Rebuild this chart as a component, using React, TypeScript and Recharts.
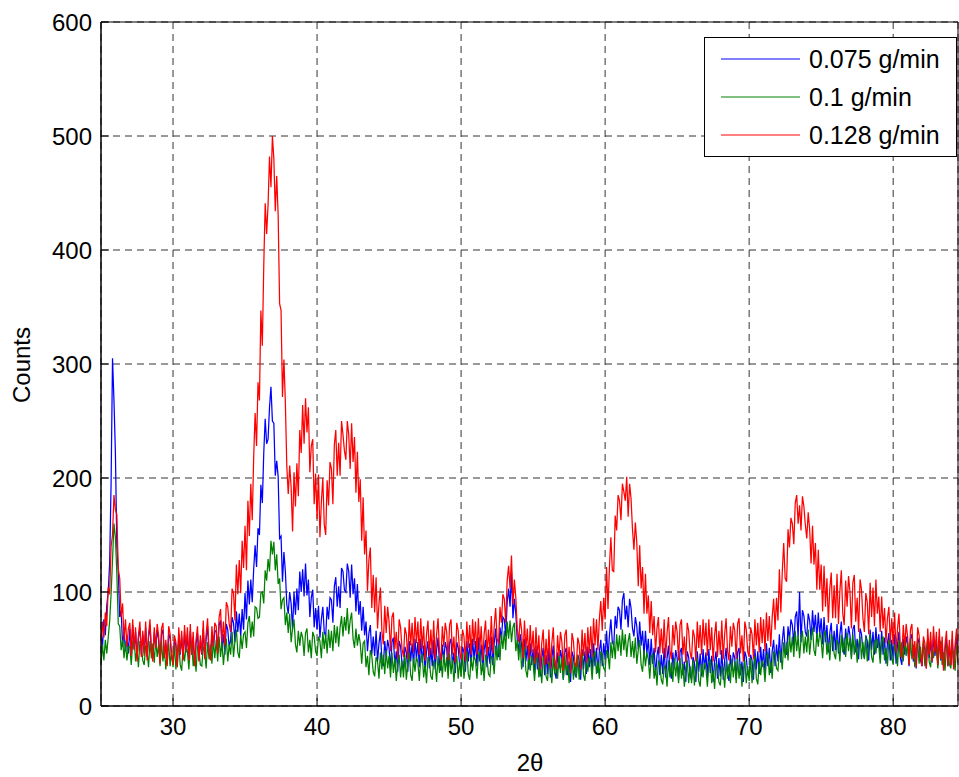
import React from 'react';
import { LineChart, Line, XAxis, YAxis, CartesianGrid } from 'recharts';

// 2θ sampling grid (degrees): 25.0, 25.1, ... 84.5
const TWO_THETA_START = 25;
const TWO_THETA_STEP = 0.1;

const X_TICKS = [30, 40, 50, 60, 70, 80];
const Y_TICKS = [0, 100, 200, 300, 400, 500, 600];

// Counts, 0.075 g/min (blue) – one row per degree
const COUNTS_0075 = [
  66, 50, 76, 62, 88, 100, 125, 195, 305, 268,
  222, 140, 118, 78, 84, 52, 66, 48, 62, 46,
  68, 46, 71, 50, 65, 42, 60, 69, 45, 63,
  46, 69, 43, 60, 71, 48, 42, 65, 51, 67,
  58, 39, 63, 67, 43, 55, 37, 64, 59, 44,
  38, 58, 53, 36, 63, 45, 61, 41, 65, 47,
  63, 41, 66, 45, 60, 37, 55, 64, 40, 58,
  45, 68, 42, 59, 70, 47, 41, 64, 50, 66,
  66, 47, 71, 75, 51, 63, 45, 72, 67, 52,
  58, 78, 73, 56, 83, 65, 81, 61, 85, 67,
  99, 76, 110, 89, 111, 91, 120, 141, 122, 156,
  150, 194, 178, 222, 252, 230, 234, 262, 280, 250,
  248, 202, 215, 201, 147, 149, 109, 135, 118, 89,
  81, 100, 90, 67, 100, 80, 103, 84, 118, 100,
  120, 96, 125, 97, 111, 78, 95, 102, 69, 86,
  67, 88, 60, 76, 87, 65, 61, 87, 76, 95,
  93, 73, 105, 113, 87, 105, 86, 121, 118, 102,
  100, 125, 118, 95, 124, 98, 112, 83, 107, 80,
  92, 66, 87, 62, 74, 48, 64, 71, 45, 61,
  44, 66, 39, 55, 65, 41, 35, 57, 43, 58,
  51, 32, 56, 60, 36, 48, 30, 57, 52, 37,
  32, 52, 47, 30, 57, 39, 55, 35, 59, 41,
  56, 34, 59, 38, 53, 30, 48, 57, 33, 51,
  35, 58, 32, 49, 60, 37, 31, 54, 40, 56,
  50, 31, 55, 59, 35, 47, 29, 56, 51, 36,
  32, 52, 47, 30, 57, 39, 55, 35, 59, 41,
  57, 35, 60, 39, 54, 31, 49, 58, 34, 52,
  37, 61, 36, 55, 68, 47, 43, 69, 58, 78,
  76, 61, 91, 103, 87, 118, 77, 94, 81, 58,
  48, 63, 54, 34, 59, 39, 53, 32, 55, 36,
  50, 28, 53, 32, 47, 26, 42, 51, 27, 45,
  28, 51, 25, 42, 53, 30, 24, 47, 33, 49,
  42, 23, 47, 51, 27, 39, 21, 48, 43, 28,
  25, 45, 40, 23, 50, 32, 48, 28, 52, 34,
  50, 29, 55, 35, 51, 29, 48, 58, 35, 55,
  41, 66, 42, 62, 76, 56, 53, 79, 68, 87,
  84, 67, 93, 99, 76, 88, 69, 94, 86, 68,
  61, 78, 70, 50, 74, 53, 66, 44, 66, 46,
  59, 36, 59, 37, 51, 27, 44, 52, 27, 45,
  28, 51, 25, 42, 53, 30, 24, 47, 33, 49,
  42, 23, 47, 51, 27, 39, 21, 48, 43, 28,
  23, 43, 38, 21, 48, 30, 46, 26, 50, 32,
  47, 25, 50, 29, 44, 21, 39, 48, 24, 42,
  26, 49, 23, 40, 51, 28, 22, 45, 31, 47,
  42, 23, 47, 51, 27, 39, 21, 48, 43, 28,
  25, 45, 40, 23, 50, 32, 48, 28, 52, 34,
  50, 29, 55, 35, 51, 29, 48, 58, 35, 54,
  39, 63, 38, 57, 70, 49, 45, 70, 58, 76,
  71, 53, 78, 83, 60, 100, 56, 84, 79, 65,
  61, 81, 75, 58, 84, 65, 80, 59, 82, 63,
  77, 54, 78, 56, 71, 47, 64, 73, 48, 66,
  49, 72, 46, 63, 74, 51, 45, 68, 54, 70,
  62, 43, 67, 71, 47, 59, 41, 68, 63, 48,
  42, 62, 57, 40, 67, 49, 65, 45, 69, 51,
  63, 41, 66, 45, 60, 37, 55, 64, 40, 58,
  40, 63, 37, 54, 65, 42, 36, 59, 45, 61,
  54, 35, 59, 63, 39, 51, 33, 60, 55, 40,
  35, 55, 50, 33, 60, 42, 58, 38, 62, 44,
  58, 36, 61, 40, 55, 32, 50, 59, 35, 53,
  36, 59, 33, 50, 61, 38,
];

// Counts, 0.1 g/min (green)
const COUNTS_01 = [
  36, 54, 40, 58, 46, 60, 74, 98, 128, 160,
  148, 116, 72, 70, 49, 58, 42, 56, 40, 52,
  52, 36, 56, 60, 39, 50, 34, 57, 53, 40,
  36, 53, 49, 34, 57, 42, 55, 38, 59, 43,
  54, 35, 57, 39, 52, 32, 47, 55, 35, 50,
  34, 54, 32, 46, 56, 36, 31, 51, 39, 52,
  48, 32, 52, 56, 35, 46, 30, 53, 49, 36,
  35, 52, 48, 33, 56, 41, 54, 37, 58, 42,
  58, 39, 61, 43, 56, 36, 51, 59, 39, 54,
  45, 65, 43, 57, 67, 47, 42, 62, 50, 63,
  65, 51, 73, 79, 60, 74, 61, 87, 86, 77,
  78, 99, 100, 90, 119, 110, 129, 118, 145, 133,
  144, 119, 133, 107, 112, 85, 93, 95, 71, 82,
  64, 81, 56, 68, 76, 54, 47, 66, 53, 65,
  60, 44, 64, 68, 47, 58, 42, 65, 61, 48,
  44, 61, 57, 42, 65, 50, 63, 46, 67, 51,
  66, 48, 71, 55, 70, 52, 69, 79, 61, 78,
  66, 86, 63, 75, 82, 59, 51, 68, 53, 63,
  55, 37, 55, 57, 34, 44, 27, 49, 44, 30,
  26, 43, 39, 24, 47, 32, 45, 28, 49, 33,
  44, 25, 47, 29, 42, 22, 37, 45, 25, 40,
  25, 45, 23, 37, 47, 27, 22, 42, 30, 43,
  38, 22, 42, 46, 25, 36, 20, 43, 39, 26,
  23, 40, 36, 21, 44, 29, 42, 25, 46, 30,
  43, 24, 46, 28, 41, 21, 36, 44, 24, 39,
  26, 46, 24, 38, 48, 28, 23, 43, 31, 44,
  40, 24, 44, 48, 27, 38, 22, 45, 41, 28,
  26, 44, 41, 28, 53, 40, 55, 40, 63, 50,
  66, 49, 74, 59, 75, 56, 69, 73, 48, 58,
  40, 57, 32, 44, 52, 31, 25, 44, 31, 44,
  38, 22, 42, 46, 25, 36, 20, 43, 39, 26,
  22, 39, 35, 20, 43, 28, 41, 24, 45, 29,
  42, 23, 45, 27, 40, 20, 35, 43, 23, 38,
  25, 45, 23, 37, 47, 27, 22, 42, 30, 43,
  39, 23, 44, 48, 28, 39, 24, 48, 45, 33,
  31, 49, 46, 32, 56, 42, 57, 41, 63, 48,
  62, 44, 67, 49, 63, 43, 57, 64, 43, 57,
  42, 60, 37, 49, 58, 36, 30, 49, 35, 47,
  41, 24, 43, 46, 24, 34, 18, 40, 36, 23,
  19, 36, 32, 17, 40, 25, 38, 21, 42, 26,
  39, 20, 42, 24, 37, 17, 32, 40, 20, 35,
  20, 40, 18, 32, 42, 22, 17, 37, 25, 38,
  33, 17, 37, 41, 20, 31, 15, 38, 34, 21,
  18, 35, 31, 16, 39, 24, 37, 20, 41, 25,
  39, 20, 42, 24, 37, 17, 32, 40, 20, 35,
  22, 42, 20, 34, 44, 24, 19, 39, 27, 40,
  36, 21, 42, 47, 27, 39, 24, 48, 45, 33,
  31, 49, 46, 32, 56, 42, 56, 40, 62, 47,
  61, 43, 66, 48, 62, 42, 58, 66, 46, 61,
  47, 67, 45, 59, 69, 49, 44, 64, 52, 65,
  58, 42, 62, 66, 45, 56, 40, 63, 59, 46,
  41, 58, 54, 39, 62, 47, 60, 43, 64, 48,
  60, 41, 63, 45, 58, 38, 53, 61, 41, 56,
  41, 61, 39, 53, 63, 43, 38, 58, 46, 59,
  53, 37, 57, 61, 40, 51, 35, 58, 54, 41,
  37, 54, 50, 35, 58, 43, 56, 39, 60, 44,
  56, 37, 59, 41, 54, 34, 49, 57, 37, 52,
  37, 57, 35, 49, 59, 39, 34, 54, 42, 55,
  49, 33, 53, 57, 36, 47, 31, 54, 50, 37,
  33, 50, 46, 31, 54, 39,
];

// Counts, 0.128 g/min (red)
const COUNTS_0128 = [
  56, 74, 60, 82, 70, 104, 98, 140, 150, 185,
  172, 168, 120, 112, 78, 90, 58, 76, 52, 68,
  73, 44, 76, 49, 69, 39, 62, 74, 43, 66,
  44, 74, 40, 62, 76, 47, 39, 69, 51, 72,
  62, 37, 68, 73, 42, 58, 35, 70, 63, 44,
  36, 62, 56, 34, 69, 46, 66, 40, 71, 48,
  69, 40, 72, 45, 65, 35, 58, 70, 39, 62,
  45, 75, 41, 63, 77, 48, 40, 70, 52, 73,
  70, 46, 78, 85, 56, 74, 53, 91, 87, 72,
  65, 103, 99, 75, 124, 98, 128, 99, 145, 121,
  158, 119, 180, 149, 195, 163, 218, 257, 228, 284,
  268, 347, 316, 386, 441, 414, 440, 482, 455, 500,
  480, 434, 465, 430, 353, 347, 271, 304, 266, 210,
  186, 211, 192, 153, 205, 175, 213, 184, 242, 222,
  264, 230, 270, 240, 262, 205, 228, 234, 177, 204,
  164, 203, 148, 179, 200, 159, 150, 198, 176, 214,
  208, 177, 229, 242, 202, 231, 202, 250, 238, 224,
  216, 250, 238, 208, 248, 214, 236, 187, 223, 179,
  199, 145, 183, 133, 154, 101, 128, 139, 86, 115,
  82, 113, 68, 90, 104, 66, 54, 88, 64, 87,
  74, 48, 78, 82, 50, 65, 42, 76, 69, 50,
  43, 69, 63, 41, 76, 53, 73, 47, 78, 55,
  74, 45, 77, 50, 70, 40, 63, 75, 44, 67,
  45, 75, 41, 63, 77, 48, 40, 70, 52, 73,
  65, 40, 71, 76, 45, 61, 38, 73, 66, 47,
  41, 67, 61, 39, 74, 51, 71, 45, 76, 53,
  74, 45, 77, 50, 70, 40, 63, 75, 44, 67,
  48, 79, 46, 70, 86, 59, 54, 87, 73, 98,
  94, 73, 110, 123, 103, 132, 89, 111, 95, 68,
  56, 77, 67, 42, 75, 50, 68, 41, 71, 47,
  66, 37, 69, 42, 62, 32, 55, 67, 36, 59,
  37, 67, 33, 55, 69, 40, 32, 62, 44, 65,
  56, 31, 62, 67, 36, 52, 29, 64, 57, 38,
  34, 60, 54, 32, 67, 44, 64, 38, 69, 46,
  70, 43, 77, 53, 76, 49, 76, 92, 66, 95,
  76, 122, 85, 122, 148, 119, 118, 167, 154, 185,
  180, 163, 195, 188, 180, 201, 166, 195, 182, 155,
  137, 161, 143, 105, 141, 103, 122, 81, 116, 81,
  97, 64, 92, 62, 79, 47, 68, 78, 46, 68,
  46, 76, 42, 64, 78, 49, 41, 71, 53, 74,
  65, 40, 71, 76, 45, 61, 38, 73, 66, 47,
  41, 67, 61, 39, 74, 51, 71, 45, 76, 53,
  73, 44, 76, 49, 69, 39, 62, 74, 43, 66,
  45, 75, 41, 63, 77, 48, 40, 70, 52, 73,
  66, 41, 72, 77, 46, 62, 39, 74, 67, 48,
  43, 69, 63, 41, 76, 53, 73, 47, 78, 55,
  76, 48, 82, 57, 79, 52, 78, 94, 67, 95,
  75, 120, 82, 118, 143, 112, 109, 155, 139, 165,
  160, 142, 178, 185, 160, 176, 154, 184, 175, 159,
  147, 170, 155, 125, 158, 124, 143, 102, 137, 102,
  124, 83, 123, 87, 112, 73, 103, 117, 77, 106,
  77, 116, 72, 101, 119, 81, 71, 110, 87, 114,
  100, 68, 108, 115, 74, 95, 65, 111, 102, 77,
  65, 99, 91, 63, 108, 78, 104, 70, 111, 81,
  96, 65, 96, 68, 86, 55, 77, 87, 55, 77,
  54, 82, 47, 68, 81, 51, 42, 71, 52, 72,
  61, 36, 67, 72, 41, 57, 34, 69, 62, 43,
  35, 61, 55, 33, 68, 45, 65, 39, 70, 47,
  65, 36, 68, 41, 61, 31, 54, 66, 35, 58,
  36, 66, 32, 54, 68, 39,
];

const SERIES = [
  { key: 'a', name: '0.075 g/min', color: '#0000FF', values: COUNTS_0075 },
  { key: 'b', name: '0.1 g/min', color: '#008000', values: COUNTS_01 },
  { key: 'c', name: '0.128 g/min', color: '#FF0000', values: COUNTS_0128 },
];

const data = COUNTS_0075.map((_, i) => {
  const row: Record<string, number> = { x: Math.round((TWO_THETA_START + i * TWO_THETA_STEP) * 10) / 10 };
  SERIES.forEach((s) => {
    row[s.key] = s.values[i];
  });
  return row;
});

const FONT = '"Liberation Sans", Arial, Helvetica, sans-serif';
const W = 959;
const H = 777;

export default function App() {
  const tickStyle = { fontSize: 24, fill: '#000', fontFamily: FONT };
  return (
    <div style={{ position: 'absolute', left: 0, top: 0, width: W, height: H, background: '#fff', fontFamily: FONT }}>
      <LineChart width={W} height={H} data={data} margin={{ top: 21, right: 0, bottom: 20, left: 41 }}>
        <CartesianGrid stroke="#333" strokeDasharray="7 5" />
        <XAxis
          dataKey="x"
          type="number"
          domain={[25, 84.5]}
          ticks={X_TICKS}
          allowDataOverflow
          height={51}
          stroke="#000"
          tickSize={-8}
          tickMargin={20}
          tick={tickStyle}
          tickLine={{ stroke: '#000' }}
          axisLine={{ stroke: '#000', strokeWidth: 1.5 }}
          label={() => (
            <text x={530} y={771} textAnchor="middle" fontSize={24} fontFamily={FONT} fill="#000">
              2θ
            </text>
          )}
        />
        <XAxis
          xAxisId="top"
          orientation="top"
          type="number"
          domain={[25, 84.5]}
          ticks={X_TICKS}
          allowDataOverflow
          height={1}
          tick={false}
          tickSize={-8}
          tickLine={{ stroke: '#000' }}
          axisLine={{ stroke: '#000' }}
        />
        <YAxis
          type="number"
          domain={[0, 600]}
          ticks={Y_TICKS}
          allowDataOverflow
          width={60}
          stroke="#000"
          tickSize={-8}
          tickMargin={17}
          tick={tickStyle}
          tickLine={{ stroke: '#000' }}
          axisLine={{ stroke: '#000', strokeWidth: 1.5 }}
          label={() => (
            <text
              x={30}
              y={365}
              textAnchor="middle"
              fontSize={24}
              fontFamily={FONT}
              fill="#000"
              transform="rotate(-90, 30, 365)"
            >
              Counts
            </text>
          )}
        />
        <YAxis
          yAxisId="right"
          orientation="right"
          type="number"
          domain={[0, 600]}
          ticks={Y_TICKS}
          allowDataOverflow
          width={1}
          tick={false}
          tickSize={-8}
          tickLine={{ stroke: '#000' }}
          axisLine={{ stroke: '#000' }}
        />
        {SERIES.map((s) => (
          <Line
            key={s.key}
            type="linear"
            dataKey={s.key}
            name={s.name}
            stroke={s.color}
            strokeWidth={1.25}
            dot={false}
            activeDot={false}
            isAnimationActive={false}
          />
        ))}
      </LineChart>
      <div
        style={{
          position: 'absolute',
          left: 704,
          top: 37,
          width: 253,
          height: 120,
          border: '1px solid #000',
          background: '#fff',
          boxSizing: 'border-box',
        }}
      >
        {SERIES.map((s, i) => (
          <div
            key={s.key}
            style={{ position: 'absolute', left: 0, top: 6 + i * 38, height: 30, display: 'flex', alignItems: 'center' }}
          >
            <svg width={95} height={4} style={{ display: 'block' }}>
              <line x1={16} y1={2} x2={95} y2={2} stroke={s.color} strokeWidth={1} />
            </svg>
            <span style={{ marginLeft: 9, fontSize: 25, color: '#000', fontFamily: FONT, whiteSpace: 'nowrap' }}>
              {s.name}
            </span>
          </div>
        ))}
      </div>
    </div>
  );
}
